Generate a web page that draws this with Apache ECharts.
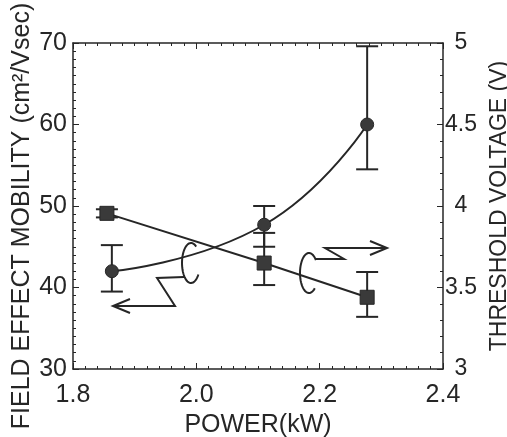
<!DOCTYPE html>
<html>
<head>
<meta charset="UTF-8">
<title>mobility vs power</title>
<script src="https://cdn.jsdelivr.net/npm/echarts@6/dist/echarts.min.js"></script>
<style>
  html, body { margin: 0; padding: 0; background: #fff; }
  #main { width: 507px; height: 437px; }
</style>
</head>
<body>
<div id="main"></div>
<script type="text/javascript">
// data
var powerCircle = [1.863, 2.110, 2.277];
var mobility = [42.0, 47.7, 60.0];
var mobilityLo = [39.5, 45.0, 54.5];
var mobilityHi = [45.2, 50.0, 69.6];

var powerSquare = [1.855, 2.110, 2.277];
var voltage = [3.955, 3.65, 3.44];
var voltageLo = [3.93, 3.515, 3.32];
var voltageHi = [3.98, 3.835, 3.595];

var xTicks = [1.8, 2.0, 2.2, 2.4];

(function () {
  var ink = '#262626';
  var font = "'Liberation Sans', Arial, sans-serif";
  var myChart = echarts.init(document.getElementById('main'));

  function pairs(xs, ys) {
    var out = [];
    for (var i = 0; i < xs.length; i++) out.push([xs[i], ys[i]]);
    return out;
  }
  function triples(xs, lo, hi) {
    var out = [];
    for (var i = 0; i < xs.length; i++) out.push([xs[i], lo[i], hi[i]]);
    return out;
  }

  // open elliptic "C" loop (annotation), from angle a1 round the left side to a2 (degrees)
  function loop(cx, cy, rx, ry, a1, a2) {
    var pts = [];
    for (var a = a1; a >= a2 - 360; a -= 6) {
      var r = a * Math.PI / 180;
      pts.push([cx + rx * Math.cos(r), cy + ry * Math.sin(r)]);
    }
    return {
      type: 'polyline', shape: { points: pts, smooth: 0 },
      style: { stroke: ink, lineWidth: 2, fill: null }
    };
  }

  // error bars: vertical line with caps
  function errorBar(params, api) {
    var x = api.value(0);
    var p1 = api.coord([x, api.value(1)]);
    var p2 = api.coord([x, api.value(2)]);
    var w = 11;
    var st = { stroke: ink, lineWidth: 2 };
    return {
      type: 'group',
      children: [
        { type: 'line', shape: { x1: p1[0], y1: p1[1], x2: p2[0], y2: p2[1] }, style: st },
        { type: 'line', shape: { x1: p1[0] - w, y1: p1[1], x2: p1[0] + w, y2: p1[1] }, style: st },
        { type: 'line', shape: { x1: p2[0] - w, y1: p2[1], x2: p2[0] + w, y2: p2[1] }, style: st }
      ]
    };
  }

  var axisCommon = {
    axisLine: { show: true, lineStyle: { color: ink, width: 1.5 } },
    axisTick: { show: true, inside: true, length: 6, lineStyle: { color: ink } },
    minorTick: { show: true, length: 3, lineStyle: { color: ink } },
    splitLine: { show: false },
    axisLabel: { color: ink, fontFamily: font, fontSize: 25 }
  };

  var option = {
    backgroundColor: '#fff',
    animation: false,
    grid: { left: 73, right: 64, top: 43, bottom: 68, outerBoundsMode: 'none' },
    xAxis: [
      Object.assign({}, axisCommon, {
        type: 'value', min: 1.8, max: 2.4, interval: 0.2,
        minorTick: { show: true, splitNumber: 10, length: 3, lineStyle: { color: ink } },
        axisLabel: { color: ink, fontFamily: font, fontSize: 25, margin: 14,
          formatter: function (v) { return xTicks.indexOf(+v.toFixed(1)) >= 0 ? v.toFixed(1) : ''; } },
        name: 'POWER(kW)', nameLocation: 'middle', nameGap: 39,
        nameTextStyle: { color: ink, fontFamily: font, fontSize: 25 }
      }),
      Object.assign({}, axisCommon, {
        type: 'value', position: 'top', min: 1.8, max: 2.4, interval: 0.2,
        minorTick: { show: true, splitNumber: 10, length: 3, lineStyle: { color: ink } },
        axisLabel: { show: false }
      })
    ],
    yAxis: [
      Object.assign({}, axisCommon, {
        type: 'value', min: 30, max: 70, interval: 10,
        minorTick: { show: true, splitNumber: 10, length: 3, lineStyle: { color: ink } },
        axisLabel: { color: ink, fontFamily: font, fontSize: 25, margin: 6 }
      }),
      Object.assign({}, axisCommon, {
        type: 'value', position: 'right', min: 3, max: 5, interval: 0.5,
        minorTick: { show: true, splitNumber: 5, length: 3, lineStyle: { color: ink } },
        axisLabel: { color: ink, fontFamily: font, fontSize: 23, margin: 18, align: 'center' },
        name: 'THRESHOLD VOLTAGE (V)', nameLocation: 'middle', nameGap: 44, nameRotate: 90,
        nameTextStyle: { color: ink, fontFamily: font, fontSize: 23 }
      })
    ],
    graphic: [
      // left axis title
      { type: 'text', x: 22, y: 216, rotation: Math.PI / 2,
        style: { text: 'FIELD EFFECT MOBILITY (cm\u00b2/Vsec)', fill: ink,
          font: "25px 'Liberation Sans', Arial, sans-serif", align: 'center', verticalAlign: 'middle' } },
      // loop + arrow pointing to left axis
      loop(191, 263, 9, 20, -55, 35),
      { type: 'polyline', shape: { points: [[184, 277], [157, 278], [175, 306], [113, 306]] },
        style: { stroke: ink, lineWidth: 2, fill: null } },
      { type: 'polyline', shape: { points: [[130, 299], [113, 306], [130, 313]] },
        style: { stroke: ink, lineWidth: 2, fill: null } },
      // loop + arrow pointing to right axis
      loop(309, 273, 9, 20, -40, 50),
      { type: 'polyline', shape: { points: [[316, 259], [344, 259], [325, 248], [387, 248]] },
        style: { stroke: ink, lineWidth: 2, fill: null } },
      { type: 'polyline', shape: { points: [[370, 241], [387, 248], [370, 255]] },
        style: { stroke: ink, lineWidth: 2, fill: null } }
    ],
    series: [
      {
        type: 'custom', xAxisIndex: 0, yAxisIndex: 0, z: 2,
        renderItem: errorBar, data: triples(powerCircle, mobilityLo, mobilityHi)
      },
      {
        type: 'custom', xAxisIndex: 0, yAxisIndex: 1, z: 2,
        renderItem: errorBar, data: triples(powerSquare, voltageLo, voltageHi)
      },
      {
        type: 'line', xAxisIndex: 0, yAxisIndex: 0, z: 3,
        data: pairs(powerCircle, mobility), smooth: 0.5,
        symbol: 'circle', symbolSize: 13,
        itemStyle: { color: '#3a3a3a', borderColor: ink, borderWidth: 1 },
        lineStyle: { color: ink, width: 2 }
      },
      {
        type: 'line', xAxisIndex: 0, yAxisIndex: 1, z: 3,
        data: pairs(powerSquare, voltage),
        symbol: 'rect', symbolSize: 14,
        itemStyle: { color: '#3a3a3a', borderColor: ink, borderWidth: 1 },
        lineStyle: { color: ink, width: 2 }
      }
    ]
  };
  myChart.setOption(option);
})();
</script>
</body>
</html>
